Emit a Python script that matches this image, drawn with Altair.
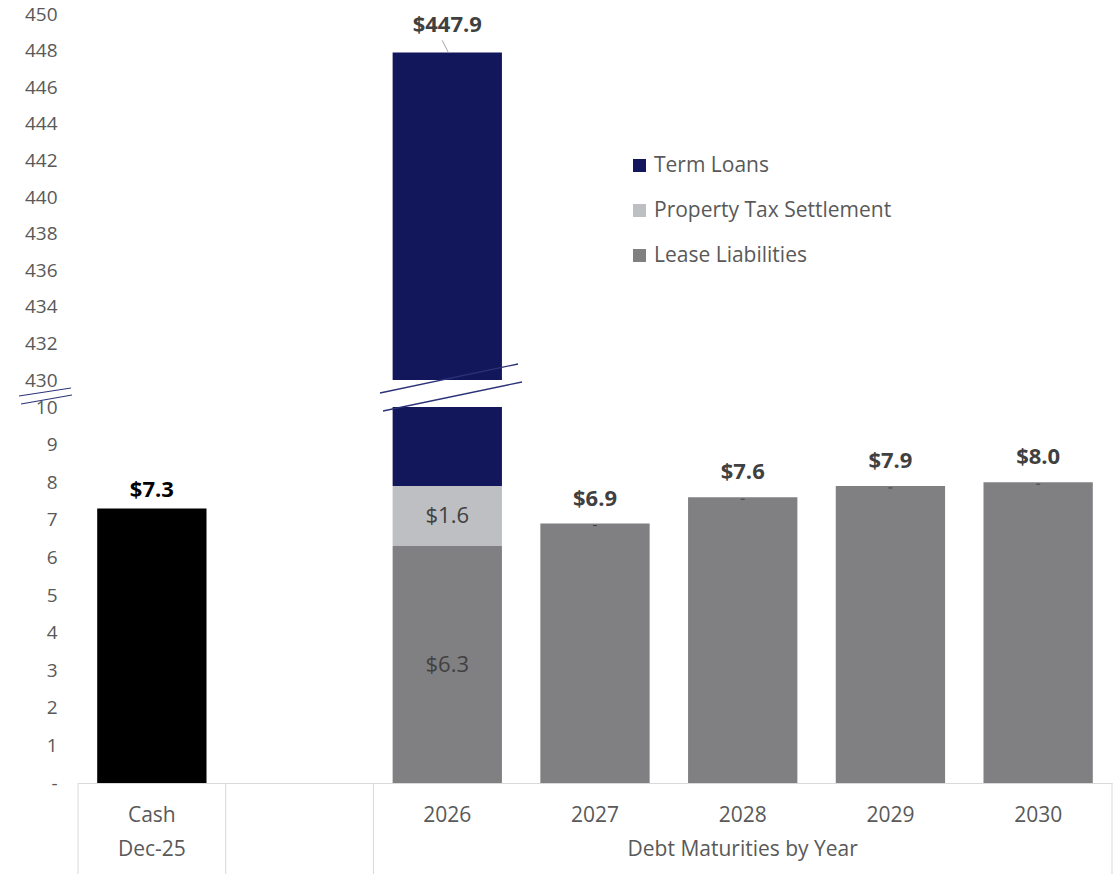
import altair as alt
import pandas as pd

# ---------------- data ----------------
categories = ["Cash", " ", "2026", "2027", "2028", "2029", "2030"]
series = ["Term Loans", "Property Tax Settlement", "Lease Liabilities"]
series_colors = ["#11175A", "#BDBFC2", "#808083"]

cash_label = "Cash"
cash_value = 7.3

years = ["2026", "2027", "2028", "2029", "2030"]
lease = [6.3, 6.9, 7.6, 7.9, 8.0]
property_tax = [1.6, 0.0, 0.0, 0.0, 0.0]
term_loans = [440.0, 0.0, 0.0, 0.0, 0.0]

group_labels = ["Dec-25", "Debt Maturities by Year"]
group_anchor = ["Cash", "2028"]
separator_start = ["Cash", " ", "2026"]
separator_end = ["2030"]

upper_ticks = list(range(430, 451, 2))
lower_ticks = list(range(0, 11))

# ---------------- tables ----------------
rows = []
for i, yr in enumerate(years):
    base = 0.0
    for name, vals in (("Lease Liabilities", lease), ("Property Tax Settlement", property_tax), ("Term Loans", term_loans)):
        v = vals[i]
        if v > 0:
            rows.append({"cat": yr, "series": name, "y0": base, "y1": base + v, "mid": base + v / 2, "v": v})
        base += v
seg = pd.DataFrame(rows)

tot = pd.DataFrame({
    "cat": years,
    "total": [lease[i] + property_tax[i] + term_loans[i] for i in range(len(years))],
})
tot["label"] = tot["total"].map(lambda v: f"${v:,.1f}")
tot_small = tot[tot["total"] < 100]
tot_big = tot[tot["total"] >= 100]

cash = pd.DataFrame({"cat": [cash_label], "v": [cash_value], "label": [f"${cash_value:.1f}"]})

inside = seg[(seg["cat"] == "2026") & (seg["series"] != "Term Loans")].copy()
inside["label"] = inside["v"].map(lambda v: f"${v:.1f}")

groups = pd.DataFrame({"cat": group_anchor, "label": group_labels})
sep_s = pd.DataFrame({"cat": separator_start})
sep_e = pd.DataFrame({"cat": separator_end})

FONT = "Open Sans"
W = 1034
H_UP = 366
H_LO = 376
TXT = "#595959"
DARK = "#404040"
VAL_FS = 22
AX_FS = 19
XL_FS = 21

xscale = alt.Scale(domain=categories, paddingInner=0, paddingOuter=0)
cscale = alt.Scale(domain=series, range=series_colors)

# ---------------- upper panel ----------------
yup = alt.Scale(domain=[430, 450], nice=False, zero=False)
up_axis = alt.Axis(values=upper_ticks, title=None, grid=False, domain=False, ticks=False, tickSize=0,
                   labelPadding=21, labelColor=TXT, labelFontSize=AX_FS, labelFont=FONT,
                   labelOverlap=False, labelFlush=False, labelBound=False)

up_bars = alt.Chart(seg).mark_bar(width={"band": 0.74}, clip=True).encode(
    x=alt.X("cat:N", scale=xscale, axis=None),
    y=alt.Y("y0:Q", scale=yup, axis=up_axis),
    y2="y1:Q",
    color=alt.Color("series:N", scale=cscale, sort=series,
                    legend=alt.Legend(orient="none", legendX=551, legendY=141, title=None,
                                      symbolType="square", symbolSize=170, symbolStrokeWidth=0,
                                      labelFontSize=XL_FS, labelColor=TXT, labelFont=FONT,
                                      labelOffset=4, rowPadding=23, labelLimit=400)),
)
up_text = alt.Chart(tot_big).mark_text(fontSize=VAL_FS, fontWeight="bold", color=DARK, font=FONT,
                                       baseline="middle", dy=-27).encode(
    x=alt.X("cat:N", scale=xscale), y=alt.Y("total:Q", scale=yup, axis=up_axis), text="label:N")
up_leader = alt.Chart(tot_big).mark_rule(color="#A6A6A6", strokeWidth=1, x2Offset=-5, y2Offset=-12,
                                         xOffset=1).encode(
    x=alt.X("cat:N", scale=xscale), y=alt.Y("total:Q", scale=yup, axis=up_axis), x2="cat:N", y2="total:Q")

upper = alt.layer(up_bars, up_leader, up_text).properties(width=W, height=H_UP)

# ---------------- lower panel ----------------
ylo = alt.Scale(domain=[0, 10], nice=False)
lo_axis = alt.Axis(values=lower_ticks, title=None, grid=False, domain=False, ticks=False, tickSize=0,
                   labelPadding=21, labelColor=TXT, labelFontSize=AX_FS, labelFont=FONT,
                   labelOverlap=False, labelFlush=False, labelBound=False,
                   labelExpr="datum.value == 0 ? '-' : datum.label")
x_axis = alt.Axis(title=None, labelAngle=0, ticks=False, tickSize=0, domainColor="#D9D9D9",
                  labelPadding=32, labelColor=TXT, labelFontSize=XL_FS, labelFont=FONT,
                  labelBaseline="middle", labelOverlap=False)

lo_bars = alt.Chart(seg).mark_bar(width={"band": 0.74}, clip=True).encode(
    x=alt.X("cat:N", scale=xscale, axis=x_axis),
    y=alt.Y("y0:Q", scale=ylo, axis=lo_axis),
    y2="y1:Q",
    color=alt.Color("series:N", scale=cscale, sort=series, legend=None),
)
cash_bar = alt.Chart(cash).mark_bar(width={"band": 0.74}, color="#000000").encode(
    x=alt.X("cat:N", scale=xscale, axis=x_axis), y=alt.Y("v:Q", scale=ylo, axis=lo_axis))
cash_text = alt.Chart(cash).mark_text(fontSize=VAL_FS, fontWeight="bold", color="#000000", font=FONT,
                                      baseline="middle", dy=-19).encode(
    x=alt.X("cat:N", scale=xscale, axis=x_axis), y=alt.Y("v:Q", scale=ylo, axis=lo_axis), text="label:N")
tot_text = alt.Chart(tot_small).mark_text(fontSize=VAL_FS, fontWeight="bold", color=DARK, font=FONT,
                                          baseline="middle", dy=-25).encode(
    x=alt.X("cat:N", scale=xscale, axis=x_axis), y=alt.Y("total:Q", scale=ylo, axis=lo_axis), text="label:N")
tot_dash = alt.Chart(tot_small).mark_rule(color=DARK, strokeWidth=1, xOffset=-2, x2Offset=2,
                                          yOffset=2, y2Offset=2).encode(
    x=alt.X("cat:N", scale=xscale, axis=x_axis), x2="cat:N",
    y=alt.Y("total:Q", scale=ylo, axis=lo_axis), y2="total:Q")
in_text = alt.Chart(inside).mark_text(fontSize=VAL_FS, color=DARK, font=FONT, baseline="middle").encode(
    x=alt.X("cat:N", scale=xscale, axis=x_axis), y=alt.Y("mid:Q", scale=ylo, axis=lo_axis), text="label:N")

sep_a = alt.Chart(sep_s).mark_rule(color="#D9D9D9", strokeWidth=1).encode(
    x=alt.X("cat:N", scale=xscale, bandPosition=0, axis=x_axis), y=alt.value(H_LO), y2=alt.value(H_LO + 95))
sep_b = alt.Chart(sep_e).mark_rule(color="#D9D9D9", strokeWidth=1).encode(
    x=alt.X("cat:N", scale=xscale, bandPosition=1, axis=x_axis), y=alt.value(H_LO), y2=alt.value(H_LO + 95))
grp_text = alt.Chart(groups).mark_text(fontSize=XL_FS, color=TXT, font=FONT, baseline="middle").encode(
    x=alt.X("cat:N", scale=xscale, axis=x_axis), y=alt.value(H_LO + 67), text="label:N")

one = alt.Data(values=[{"k": 1}])
BRK = "#2B3278"
brk1 = alt.Chart(one).mark_rule(color=BRK, strokeWidth=1.3).encode(
    x=alt.value(302), y=alt.value(-14), x2=alt.value(440), y2=alt.value(-43))
brk2 = alt.Chart(one).mark_rule(color=BRK, strokeWidth=1.3).encode(
    x=alt.value(305), y=alt.value(4), x2=alt.value(444), y2=alt.value(-25))
brk3 = alt.Chart(one).mark_rule(color=BRK, strokeWidth=1.2).encode(
    x=alt.value(-59), y=alt.value(-11), x2=alt.value(-7), y2=alt.value(-19))
brk4 = alt.Chart(one).mark_rule(color=BRK, strokeWidth=1.2).encode(
    x=alt.value(-57), y=alt.value(-3), x2=alt.value(-6), y2=alt.value(-12))

lower = alt.layer(lo_bars, cash_bar, cash_text, tot_text, tot_dash, in_text,
                  sep_a, sep_b, grp_text, brk1, brk2, brk3, brk4).properties(width=W, height=H_LO)

chart = alt.vconcat(upper, lower, spacing=27, bounds="flush").properties(
    padding={"left": 18, "top": 5, "right": 4, "bottom": 0}
).configure(
    font=FONT,
    view=alt.ViewConfig(stroke="transparent", strokeWidth=0),
    axis=alt.AxisConfig(labelOverlap=False),
)

chart.save("out.html", embed_options={"renderer": "svg", "actions": False})
